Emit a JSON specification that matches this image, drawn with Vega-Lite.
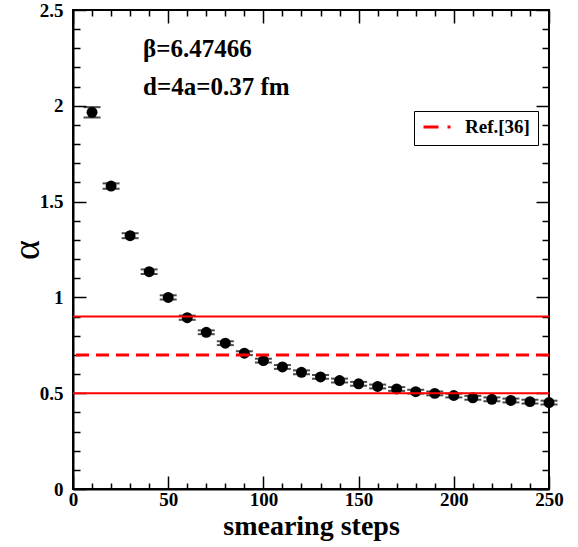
{
  "$schema": "https://vega.github.io/schema/vega-lite/v6.json",
  "width": 476,
  "height": 479,
  "autosize": {"type": "none"},
  "padding": {"left": 73, "top": 10, "right": 29, "bottom": 58},
  "background": "white",
  "config": {
    "view": {"stroke": "black", "strokeWidth": 2},
    "font": "Liberation Serif",
    "axis": {
      "domainColor": "black",
      "domainWidth": 2,
      "tickColor": "black",
      "tickWidth": 1.5,
      "grid": false,
      "labelFont": "Liberation Serif",
      "labelFontWeight": "bold",
      "labelColor": "black",
      "labelFontSize": 19,
      "titleFont": "Liberation Serif",
      "titleFontWeight": "bold",
      "titleColor": "black",
      "labelFlush": false,
      "labelOverlap": false
    }
  },
  "datasets": {
    "pts": [
      {"steps": 10, "alpha": 1.966, "lo": 1.939, "hi": 1.993},
      {"steps": 20, "alpha": 1.581, "lo": 1.567, "hi": 1.595},
      {"steps": 30, "alpha": 1.322, "lo": 1.309, "hi": 1.335},
      {"steps": 40, "alpha": 1.134, "lo": 1.122, "hi": 1.146},
      {"steps": 50, "alpha": 1.0, "lo": 0.989, "hi": 1.011},
      {"steps": 60, "alpha": 0.894, "lo": 0.883, "hi": 0.905},
      {"steps": 70, "alpha": 0.818, "lo": 0.808, "hi": 0.828},
      {"steps": 80, "alpha": 0.761, "lo": 0.751, "hi": 0.771},
      {"steps": 90, "alpha": 0.709, "lo": 0.699, "hi": 0.719},
      {"steps": 100, "alpha": 0.670, "lo": 0.660, "hi": 0.680},
      {"steps": 110, "alpha": 0.637, "lo": 0.627, "hi": 0.647},
      {"steps": 120, "alpha": 0.609, "lo": 0.599, "hi": 0.619},
      {"steps": 130, "alpha": 0.585, "lo": 0.575, "hi": 0.595},
      {"steps": 140, "alpha": 0.566, "lo": 0.556, "hi": 0.576},
      {"steps": 150, "alpha": 0.549, "lo": 0.539, "hi": 0.559},
      {"steps": 160, "alpha": 0.535, "lo": 0.525, "hi": 0.545},
      {"steps": 170, "alpha": 0.522, "lo": 0.512, "hi": 0.532},
      {"steps": 180, "alpha": 0.508, "lo": 0.498, "hi": 0.518},
      {"steps": 190, "alpha": 0.499, "lo": 0.489, "hi": 0.509},
      {"steps": 200, "alpha": 0.488, "lo": 0.478, "hi": 0.498},
      {"steps": 210, "alpha": 0.476, "lo": 0.466, "hi": 0.486},
      {"steps": 220, "alpha": 0.468, "lo": 0.458, "hi": 0.478},
      {"steps": 230, "alpha": 0.462, "lo": 0.452, "hi": 0.472},
      {"steps": 240, "alpha": 0.456, "lo": 0.446, "hi": 0.466},
      {"steps": 250, "alpha": 0.451, "lo": 0.441, "hi": 0.461}
    ],
    "bands": [{"level": 0.5}, {"level": 0.9}],
    "ref": [{"level": 0.7, "name": "Ref.[36]"}],
    "notes": [{"line1": "β=6.47466", "line2": "d=4a=0.37 fm"}]
  },
  "layer": [
    {
      "data": {"name": "pts"},
      "mark": {"type": "rule", "color": "black", "strokeWidth": 1.5},
      "encoding": {
        "x": {
          "field": "steps", "type": "quantitative",
          "scale": {"domain": [0, 250], "nice": false, "zero": false},
          "axis": {
            "orient": "bottom",
            "title": "smearing steps",
            "titleFontSize": 28,
            "titlePadding": -4,
            "values": [0,10,20,30,40,50,60,70,80,90,100,110,120,130,140,150,160,170,180,190,200,210,220,230,240,250],
            "labelExpr": "datum.value % 50 === 0 ? datum.label : ''",
            "tickSize": {"condition": {"test": "datum.value % 50 === 0", "value": -13}, "value": -6},
            "labelPadding": 14
          }
        },
        "y": {
          "field": "lo", "type": "quantitative",
          "scale": {"domain": [0, 2.5], "nice": false, "zero": false},
          "axis": {
            "orient": "left",
            "title": "α",
            "titleFontSize": 38,
            "titleFontWeight": "normal",
            "titlePadding": -7,
            "values": [0,0.1,0.2,0.3,0.4,0.5,0.6,0.7,0.8,0.9,1,1.1,1.2,1.3,1.4,1.5,1.6,1.7,1.8,1.9,2,2.1,2.2,2.3,2.4,2.5],
            "labelExpr": "round(datum.value*10) % 5 === 0 ? format(datum.value, '~g') : ''",
            "tickSize": {"condition": {"test": "round(datum.value*10) % 5 === 0", "value": -13}, "value": -7},
            "labelPadding": 23
          }
        },
        "y2": {"field": "hi"}
      }
    },
    {
      "data": {"name": "pts"},
      "mark": {"type": "tick", "orient": "horizontal", "color": "black", "size": 17, "thickness": 2},
      "encoding": {
        "x": {
          "field": "steps", "type": "quantitative",
          "axis": {
            "orient": "top",
            "title": null,
            "labels": false,
            "domain": false,
            "values": [0,10,20,30,40,50,60,70,80,90,100,110,120,130,140,150,160,170,180,190,200,210,220,230,240,250],
            "tickSize": {"condition": {"test": "datum.value % 50 === 0", "value": -13}, "value": -6}
          }
        },
        "y": {
          "field": "lo", "type": "quantitative",
          "axis": {
            "orient": "right",
            "title": null,
            "labels": false,
            "domain": false,
            "values": [0,0.1,0.2,0.3,0.4,0.5,0.6,0.7,0.8,0.9,1,1.1,1.2,1.3,1.4,1.5,1.6,1.7,1.8,1.9,2,2.1,2.2,2.3,2.4,2.5],
            "tickSize": {"condition": {"test": "round(datum.value*10) % 5 === 0", "value": -13}, "value": -7}
          }
        }
      }
    },
    {
      "data": {"name": "pts"},
      "mark": {"type": "tick", "orient": "horizontal", "color": "black", "size": 17, "thickness": 2},
      "encoding": {
        "x": {"field": "steps", "type": "quantitative", "axis": null},
        "y": {"field": "hi", "type": "quantitative", "axis": null}
      }
    },
    {
      "data": {"name": "pts"},
      "mark": {"type": "circle", "color": "black", "opacity": 1, "size": 120},
      "encoding": {
        "x": {"field": "steps", "type": "quantitative", "axis": null},
        "y": {"field": "alpha", "type": "quantitative", "axis": null}
      }
    },
    {
      "data": {"name": "bands"},
      "mark": {"type": "rule", "color": "red", "strokeWidth": 2},
      "encoding": {
        "y": {"field": "level", "type": "quantitative", "axis": null}
      }
    },
    {
      "data": {"name": "ref"},
      "mark": {"type": "rule", "strokeWidth": 3, "strokeDash": [13, 7]},
      "encoding": {
        "y": {"field": "level", "type": "quantitative", "axis": null},
        "color": {
          "field": "name", "type": "nominal",
          "scale": {"range": ["red"]},
          "legend": {
            "title": null,
            "orient": "none",
            "legendX": 341,
            "legendY": 101,
            "strokeColor": "black",
            "fillColor": "white",
            "padding": 8,
            "cornerRadius": 0,
            "clipHeight": 16,
            "symbolType": "stroke",
            "symbolSize": 784,
            "symbolStrokeWidth": 3,
            "symbolDash": [15, 9, 3, 40],
            "labelFont": "Liberation Serif",
            "labelFontWeight": "bold",
            "labelFontSize": 19,
            "labelColor": "black",
            "labelOffset": 12
          }
        }
      }
    },
    {
      "data": {"name": "notes"},
      "mark": {"type": "text", "font": "Liberation Serif", "fontWeight": "bold", "fontSize": 25, "align": "left", "baseline": "alphabetic", "color": "black"},
      "encoding": {
        "x": {"datum": 36.8, "type": "quantitative", "axis": null},
        "y": {"datum": 2.256, "type": "quantitative", "axis": null},
        "text": {"field": "line1"}
      }
    },
    {
      "data": {"name": "notes"},
      "mark": {"type": "text", "font": "Liberation Serif", "fontWeight": "bold", "fontSize": 25, "align": "left", "baseline": "alphabetic", "color": "black"},
      "encoding": {
        "x": {"datum": 36.8, "type": "quantitative", "axis": null},
        "y": {"datum": 2.056, "type": "quantitative", "axis": null},
        "text": {"field": "line2"}
      }
    }
  ]
}
